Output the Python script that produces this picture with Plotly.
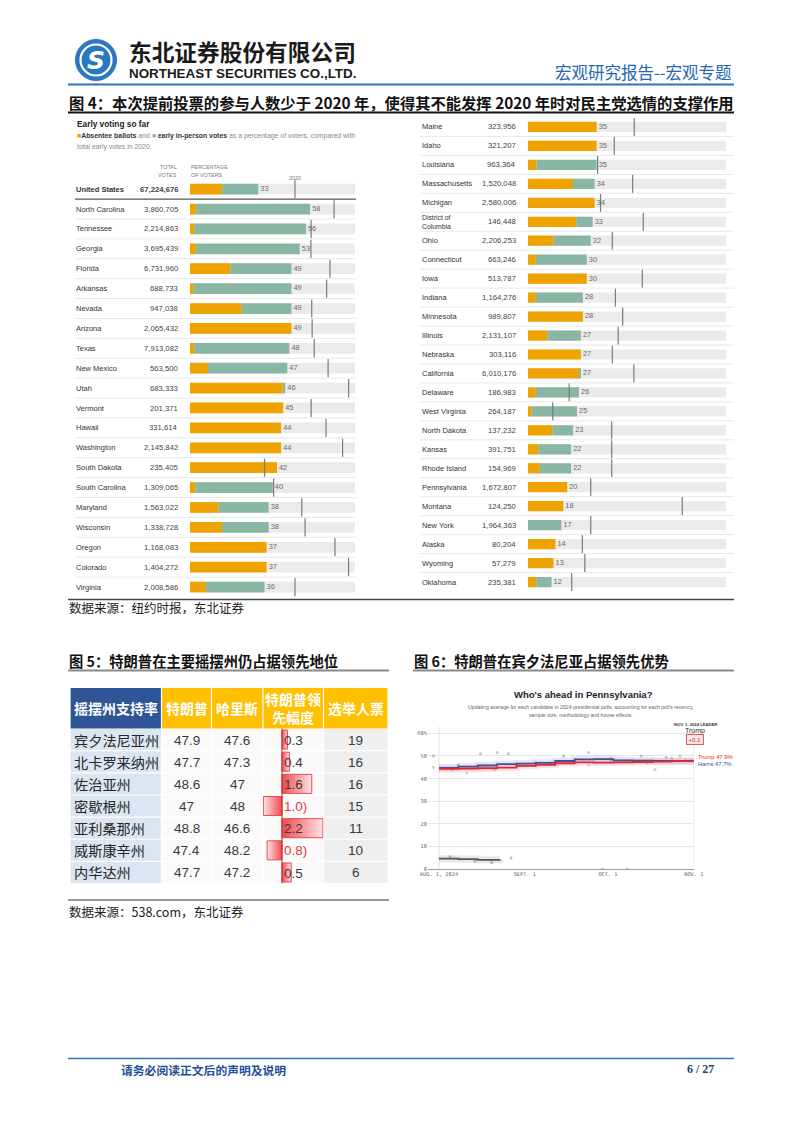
import plotly.graph_objects as go

W, H = 802, 1133


def PX(x):
    return x / W


def PY(y):
    return 1 - y / H


# ---------------- Figure 4 data (early voting, NYT) ----------------
left_states = ["United States", "North Carolina", "Tennessee", "Georgia", "Florida", "Arkansas",
               "Nevada", "Arizona", "Texas", "New Mexico", "Utah", "Vermont", "Hawaii",
               "Washington", "South Dakota", "South Carolina", "Maryland", "Wisconsin",
               "Oregon", "Colorado", "Virginia"]
left_votes = ["67,224,676", "3,860,705", "2,214,863", "3,695,439", "6,731,960", "688,733",
              "947,038", "2,065,432", "7,913,082", "563,500", "683,333", "201,371", "331,614",
              "2,145,842", "235,405", "1,309,065", "1,563,022", "1,338,728", "1,168,083",
              "1,404,272", "2,008,586"]
left_total = [33, 58, 56, 53, 49, 49, 49, 49, 48, 47, 46, 45, 44, 44, 42, 40, 38, 38, 37, 37, 36]
left_absentee = [15.5, 3, 2, 3, 19.5, 1.8, 25, 49, 2, 8.7, 44.8, 45, 44, 44, 42, 2.6, 13.8, 15.5,
                 37, 37, 7.7]
left_2020 = [50.7, 69.6, 58.5, 58.4, 67.6, 66, 58.8, 59, 60, 66.7, 76.6, 58.5, 65.7, 73.7, 36,
             40.4, 54, 55.6, 70, 76.6, 50.7]

right_states = ["Maine", "Idaho", "Louisiana", "Massachusetts", "Michigan", "District of Columbia",
                "Ohio", "Connecticut", "Iowa", "Indiana", "Minnesota", "Illinois", "Nebraska",
                "California", "Delaware", "West Virginia", "North Dakota", "Kansas",
                "Rhode Island", "Pennsylvania", "Montana", "New York", "Alaska", "Wyoming",
                "Oklahoma"]
right_votes = ["323,956", "321,207", "963,364", "1,520,048", "2,580,006", "146,448", "2,206,253",
               "663,246", "513,787", "1,164,276", "989,807", "2,131,107", "303,116", "6,010,176",
               "186,983", "264,187", "137,232", "391,751", "154,969", "1,672,807", "124,250",
               "1,964,363", "80,204", "57,279", "235,381"]
right_total = [35, 35, 35, 34, 34, 33, 32, 30, 30, 28, 28, 27, 27, 27, 26, 25, 23, 22, 22, 20, 18,
               17, 14, 13, 12]
right_absentee = [35, 35, 4.4, 23, 34, 24.6, 13, 4, 30, 4, 28, 10, 27, 26.5, 4, 1.9, 12.6, 5.3, 6,
                  20, 18, 0, 14, 13, 4.2]
right_2020 = [54.2, 44, 35.5, 53.4, 37, 58.8, 43, None, 58.3, 44.6, 48.3, 46, 43, 54, 21, 12.6,
              42.7, 42.7, 42.7, 32, 78.7, 32, 27.7, 29, 22.3]

# ---------------- Figure 5 data (swing-state table) ----------------
table_headers = ["摇摆州支持率", "特朗普", "哈里斯", "特朗普领<br>先幅度", "选举人票"]
swing_states = ["宾夕法尼亚州", "北卡罗来纳州", "佐治亚州", "密歇根州", "亚利桑那州", "威斯康辛州", "内华达州"]
trump_support = [47.9, 47.7, 48.6, 47, 48.8, 47.4, 47.7]
harris_support = [47.6, 47.3, 47, 48, 46.6, 48.2, 47.2]
electoral_votes = [19, 16, 16, 15, 11, 10, 6]

# ---------------- Figure 6 data (Pennsylvania polling average) ----------------
avg_dates = ["2024-08-01", "2024-08-08", "2024-08-15", "2024-08-22", "2024-08-29", "2024-09-05",
             "2024-09-12", "2024-09-19", "2024-09-26", "2024-10-03", "2024-10-10", "2024-10-17",
             "2024-10-24", "2024-11-01"]
trump_avg = [44.3, 44.4, 44.6, 44.9, 45.6, 46.1, 46.8, 47.2, 47.1, 47.2, 47.3, 47.5, 47.7, 47.9]
harris_avg = [44.8, 45.3, 45.8, 46.4, 46.6, 47.0, 47.8, 48.5, 48.6, 48.1, 47.9, 47.8, 47.8, 47.7]
kennedy_dates = ["2024-08-01", "2024-08-08", "2024-08-15", "2024-08-23"]
kennedy_avg = [4.7, 4.5, 4.2, 4.3]
trump_poll_dates = ["2024-07-30", "2024-08-06", "2024-08-11", "2024-08-21", "2024-08-29",
                    "2024-09-10", "2024-09-17", "2024-09-24", "2024-10-02", "2024-10-08",
                    "2024-10-15", "2024-10-18", "2024-10-24", "2024-10-29"]
trump_poll_vals = [45, 44, 42.5, 44, 46, 47, 47.5, 46, 49, 48, 47, 44, 49, 48]
harris_poll_dates = ["2024-07-30", "2024-08-08", "2024-08-16", "2024-08-22", "2024-08-26",
                     "2024-09-05", "2024-09-15", "2024-09-24", "2024-10-02", "2024-10-13",
                     "2024-10-22", "2024-10-27", "2024-10-31"]
harris_poll_vals = [50, 46, 51, 51.5, 51, 47, 50, 51.5, 48, 50, 49.5, 50, 48]
kennedy_poll_dates = ["2024-08-05", "2024-08-14", "2024-08-20", "2024-08-27", "2024-09-29",
                      "2024-10-08"]
kennedy_poll_vals = [5.5, 3.5, 3.0, 5.0, 0, 0]
pa_tick_dates = ["2024-08-01", "2024-09-01", "2024-10-01", "2024-11-01"]
pa_tick_text = ["AUG. 1, 2024", "SEPT. 1", "OCT. 1", "NOV. 1"]

# ---------------- styles ----------------
ORANGE = "#eea300"
GREEN = "#89b7a3"
BGBAR = "#ebebeb"
SANS = "Liberation Sans"
CJK = "Noto Sans CJK SC"
BLUE = "#2466b0"

fig = go.Figure()
shapes = []
ann = []


def text(x, y, s, size, color="#222", family=SANS, xanchor="left", yanchor="middle", **kw):
    ann.append(dict(x=PX(x), y=PY(y), xref="paper", yref="paper", text=s, showarrow=False,
                    xanchor=xanchor, yanchor=yanchor,
                    font=dict(size=size, color=color, family=family), **kw))


def hline(x0, x1, y, color, width):
    shapes.append(dict(type="line", xref="paper", yref="paper", x0=PX(x0), x1=PX(x1),
                       y0=PY(y), y1=PY(y), line=dict(color=color, width=width)))


def rect(x0, x1, y0, y1, fill, line_color=None, lw=0):
    shapes.append(dict(type="rect", xref="paper", yref="paper", x0=PX(x0), x1=PX(x1),
                       y0=PY(y1), y1=PY(y0), fillcolor=fill,
                       line=dict(color=line_color or fill, width=lw), layer="below"))


# ---------------- page header ----------------
shapes.append(dict(type="circle", xref="paper", yref="paper", x0=PX(75.5), x1=PX(116.5),
                   y0=PY(80.5), y1=PY(39.5), fillcolor="#2a78c2", line=dict(color="#2a78c2", width=1)))
shapes.append(dict(type="circle", xref="paper", yref="paper", x0=PX(80.5), x1=PX(111.5),
                   y0=PY(75.5), y1=PY(44.5), fillcolor="rgba(0,0,0,0)", line=dict(color="white", width=2.2)))
text(96, 60.5, "<b><i>S</i></b>", 25, "white", "DejaVu Sans", xanchor="center")
text(127, 51, "<b>东北证券股份有限公司</b>", 22.7, "#1b1b1b", CJK)
text(127, 73.5, "<b>NORTHEAST SECURITIES CO.,LTD.</b>", 13.4, "#1b1b1b", SANS)
text(733, 72, "宏观研究报告--宏观专题", 16.5, BLUE, CJK, xanchor="right")
hline(68, 734, 84.5, "#2f73bd", 2)

# ---------------- Figure 4 ----------------
text(67, 102.5, "<b>图 4：本次提前投票的参与人数少于 2020 年，使得其不能发挥 2020 年时对民主党选情的支撑作用</b>",
     15.3, "#111", CJK)
hline(68, 734, 112.5, "#111", 2)
text(75, 124.5, "<b>Early voting so far</b>", 8.3, "#222")
text(75, 136.5,
     f"<span style='color:{ORANGE}'>■</span><b><span style='color:#333'>Absentee ballots</span></b> and "
     f"<span style='color:{GREEN}'>■</span> <b><span style='color:#333'>early in-person votes</span></b>"
     " as a percentage of voters, compared with", 6.9, "#888")
text(75, 147, "total early votes in 2020.", 6.9, "#888")
text(179, 167, "TOTAL", 5.4, "#777", xanchor="right")
text(179, 174.5, "VOTES", 5.4, "#777", xanchor="right")
text(189, 167, "PERCENTAGE", 5.4, "#777")
text(189, 174.5, "OF VOTERS", 5.4, "#777")
text(295, 178, "2020", 5.4, "#777", xanchor="center")


def bar_panel(states, totals, absentee, prior, votes, xa, ya, xmax, name_x, votes_x,
              sep_x0, sep_x1, bold_first):
    n = len(states)
    inperson = [t - a for t, a in zip(totals, absentee)]
    common = dict(orientation="h", y=states, xaxis=xa, yaxis=ya, width=0.54, hoverinfo="skip")
    fig.add_trace(go.Bar(x=[xmax] * n, marker=dict(color=BGBAR, line=dict(width=0)), **common))
    fig.add_trace(go.Bar(x=absentee, marker=dict(color=ORANGE, line=dict(width=0)), **common))
    fig.add_trace(go.Bar(x=inperson, base=absentee, marker=dict(color=GREEN, line=dict(width=0)), **common))
    fig.add_trace(go.Scatter(x=prior, y=states, mode="markers", xaxis=xa, yaxis=ya, hoverinfo="skip",
                             cliponaxis=False,
                             marker=dict(symbol="line-ns", size=13, color="#7a7a7a",
                                         line=dict(width=1.2, color="#7a7a7a"))))
    fig.add_trace(go.Scatter(x=totals, y=states, mode="text", text=[" " + str(t) for t in totals],
                             textposition="middle right", xaxis=xa, yaxis=ya, hoverinfo="skip",
                             cliponaxis=False,
                             textfont=dict(size=7.4, color="#6a6a6a", family=SANS)))
    yref = "y" + ya[1:]
    for i, (s, v) in enumerate(zip(states, votes)):
        label = s.replace("District of ", "District of<br>")
        nm_size = 6.8 if "<br>" in label else 7.5
        if bold_first and i == 0:
            label, v = f"<b>{label}</b>", f"<b>{v}</b>"
        ann.append(dict(x=PX(name_x), y=i, xref="paper", yref=yref, text=label, showarrow=False,
                        xanchor="left", yanchor="middle", align="left",
                        font=dict(size=nm_size, color="#333", family=SANS)))
        ann.append(dict(x=PX(votes_x), y=i, xref="paper", yref=yref, text=v, showarrow=False,
                        xanchor="right", yanchor="middle",
                        font=dict(size=7.7, color="#444", family=SANS)))
    for i in range(n - 1):
        first = bold_first and i == 0
        shapes.append(dict(type="line", xref="paper", yref=yref, x0=PX(sep_x0), x1=PX(sep_x1),
                           y0=i + 0.5, y1=i + 0.5,
                           line=dict(color="#555" if first else "#e2e2e2", width=1.4 if first else 0.8)))


L_XMAX = 79.7
R_XMAX = 101
bar_panel(left_states, left_total, left_absentee, left_2020, left_votes, "x", "y", L_XMAX,
          74, 180, 75, 356, True)
bar_panel(right_states, right_total, right_absentee, right_2020, right_votes, "x2", "y2", R_XMAX,
          420, 518, 420, 734, False)

hline(68, 734, 599.5, "#444", 1.3)
text(67, 607.5, "数据来源：纽约时报，东北证券", 12.5, "#222", CJK)

# ---------------- Figure 5 (table) ----------------
text(67, 660, "<b>图 5：特朗普在主要摇摆州仍占据领先地位</b>", 14.3, "#111", CJK)
hline(68, 389, 670.5, "#8a8a8a", 2)
tbl_cols = [70, 161.5, 211.5, 263, 323.5, 388]
head_top, head_bot = 688, 728.5
row_h = 22.15
for c in range(5):
    rect(tbl_cols[c] + 0.6, tbl_cols[c + 1] - 0.6, head_top, head_bot,
         "#2f5597" if c == 0 else "#ffc000")
    ann.append(dict(x=PX((tbl_cols[c] + tbl_cols[c + 1]) / 2), y=PY((head_top + head_bot) / 2),
                    xref="paper", yref="paper", text=f"<b>{table_headers[c]}</b>", showarrow=False,
                    xanchor="center", yanchor="middle", align="center",
                    font=dict(size=14, color="white", family=CJK)))
leads = [round(t - h, 1) for t, h in zip(trump_support, harris_support)]
for r, st in enumerate(swing_states):
    top = head_bot + r * row_h
    cy = top + row_h / 2
    for c in range(5):
        fill = "#dce6f2" if c == 0 else ("#efefef" if c == 4 else "#fafafa")
        rect(tbl_cols[c] + 0.6, tbl_cols[c + 1] - 0.6, top + 0.6, top + row_h - 0.6, fill)
    text(72, cy, st, 14.2, "#262626", CJK)
    for c, v in ((1, trump_support[r]), (2, harris_support[r]), (4, electoral_votes[r])):
        text((tbl_cols[c] + tbl_cols[c + 1]) / 2, cy + 0.5, f"{v:g}", 13.5, "#3a3a3a", SANS,
             xanchor="center")
    v = leads[r]
    h = 0.43
    if v >= 0:
        cs = [[0, "#f0484d"], [1, "#fde4e4"]]
    else:
        cs = [[0, "#fde4e4"], [1, "#f0484d"]]
    fig.add_trace(go.Scatter(x=[0, v, v, 0, 0], y=[r - h, r - h, r + h, r + h, r - h],
                             mode="lines", fill="toself", xaxis="x4", yaxis="y4",
                             fillgradient=dict(type="horizontal", colorscale=cs),
                             line=dict(color="#ec4a50", width=1), hoverinfo="skip"))
    lbl = f"{v:.1f}" if v >= 0 else f"{abs(v):.1f})"
    ann.append(dict(x=0, y=r + 0.03, xref="x4", yref="y4", text=lbl, showarrow=False,
                    xanchor="left", yanchor="middle", xshift=0.5,
                    font=dict(size=13.5, color="#3a3a3a" if v >= 0 else "#e8393f", family=SANS)))
shapes.append(dict(type="line", xref="x4", yref="paper", x0=0, x1=0, y0=PY(head_bot + 7 * row_h),
                   y1=PY(head_bot), line=dict(color="#c0282d", width=1)))
hline(68, 389, 900, "#333", 1.2)
text(67, 911, "数据来源：538.com，东北证券", 12.5, "#222", CJK)

# ---------------- Figure 6 (Pennsylvania) ----------------
text(412, 660, "<b>图 6：特朗普在宾夕法尼亚占据领先优势</b>", 14.3, "#111", CJK)
hline(413, 734, 670.5, "#8a8a8a", 2)
text(583, 694, "<b>Who's ahead in Pennsylvania?</b>", 9.5, "#222", SANS, xanchor="center")
text(581, 706.5, "Updating average for each candidate in 2024 presidential polls, accounting for each poll's recency,",
     5.2, "#666", SANS, xanchor="center")
text(581, 714.5, "sample size, methodology and house effects.", 5.2, "#666", SANS, xanchor="center")
text(695, 724.3, "<b>NOV. 1, 2024 LEADER</b>", 4.2, "#333", SANS, xanchor="center")
text(695, 731, "Trump", 7, "#333", SANS, xanchor="center")
ann.append(dict(x=PX(695), y=PY(739.5), xref="paper", yref="paper", text="+0.1", showarrow=False,
                xanchor="center", yanchor="middle", bgcolor="#fbe4e4", bordercolor="#e25a5a",
                borderwidth=1, borderpad=1.5, font=dict(size=6, color="#d23a3a", family=SANS)))
text(696, 756.5, "Trump 47.9%", 5.8, "#d8302f", SANS)
text(696, 763.5, "Harris 47.7%", 5.8, "#2e4c9c", SANS)

fig.add_trace(go.Scatter(x=trump_poll_dates, y=trump_poll_vals, mode="markers", xaxis="x3", yaxis="y3",
                         marker=dict(size=3, color="rgba(225,120,120,0.45)"), hoverinfo="skip"))
fig.add_trace(go.Scatter(x=harris_poll_dates, y=harris_poll_vals, mode="markers", xaxis="x3", yaxis="y3",
                         marker=dict(size=3, color="rgba(120,120,160,0.45)"), hoverinfo="skip"))
fig.add_trace(go.Scatter(x=kennedy_poll_dates, y=kennedy_poll_vals, mode="markers", xaxis="x3", yaxis="y3",
                         marker=dict(size=3, color="rgba(120,120,120,0.5)"), hoverinfo="skip"))
for d, v, col, band in ((kennedy_dates, kennedy_avg, "#555555", "rgba(120,120,120,0.18)"),
                        (avg_dates, harris_avg, "#2e4c9c", "rgba(80,100,200,0.16)"),
                        (avg_dates, trump_avg, "#e0282e", "rgba(230,80,80,0.16)")):
    fig.add_trace(go.Scatter(x=d, y=v, mode="lines", xaxis="x3", yaxis="y3", hoverinfo="skip",
                             line=dict(color=band, width=7, shape="hv")))
    fig.add_trace(go.Scatter(x=d, y=v, mode="lines", xaxis="x3", yaxis="y3", hoverinfo="skip",
                             line=dict(color=col, width=1.8, shape="hv")))
for d in (pa_tick_dates[0], pa_tick_dates[-1]):
    shapes.append(dict(type="line", xref="x3", yref="paper", x0=d, x1=d, y0=PY(869.3), y1=PY(727),
                       line=dict(color="#d8d8d8", width=0.8), layer="below"))

# ---------------- footer ----------------
hline(68, 734, 1058.5, "#2f73bd", 1.5)
text(119, 1069, "<b>请务必阅读正文后的声明及说明</b>", 11.8, "#1f4f9a", CJK)
text(716, 1069, "<b>6 / 27</b>", 12, "#1f3f7a", "Liberation Serif", xanchor="right")

hidden = dict(visible=False, fixedrange=True)
fig.update_layout(
    width=W, height=H, margin=dict(l=0, r=0, t=0, b=0, pad=0, autoexpand=False),
    autosize=False,
    paper_bgcolor="white", plot_bgcolor="rgba(0,0,0,0)",
    showlegend=False, barmode="overlay",
    shapes=shapes, annotations=ann,
    xaxis=dict(domain=[PX(190), PX(355)], range=[0, L_XMAX], anchor="y", **hidden),
    yaxis=dict(domain=[PY(597), PY(179.2)], type="category", categoryorder="array",
               categoryarray=left_states, range=[len(left_states) - 0.5, -0.5], anchor="x", **hidden),
    xaxis2=dict(domain=[PX(528), PX(726)], range=[0, R_XMAX], anchor="y2", **hidden),
    yaxis2=dict(domain=[PY(591.5), PY(117.5)], type="category", categoryorder="array",
                categoryarray=right_states, range=[len(right_states) - 0.5, -0.5], anchor="x2", **hidden),
    xaxis3=dict(domain=[PX(427.9), PX(693.8)], type="date", range=["2024-07-28", "2024-11-01"],
                anchor="y3", tickvals=pa_tick_dates, ticktext=pa_tick_text, showgrid=False,
                zeroline=False, showline=False, ticks="", fixedrange=True,
                tickfont=dict(size=5.3, color="#666", family="DejaVu Sans Mono")),
    yaxis3=dict(domain=[PY(869.3), PY(728.8)], range=[0, 62], anchor="x3",
                tickvals=[0, 10, 20, 30, 40, 50, 60], ticktext=["0", "10", "20", "30", "40", "50", "60%"],
                showgrid=True, gridcolor="#e6e6e6", gridwidth=0.8, zeroline=True, zerolinecolor="#999",
                zerolinewidth=1, ticks="", fixedrange=True,
                tickfont=dict(size=5.3, color="#666", family="DejaVu Sans Mono")),
    xaxis4=dict(domain=[PX(263), PX(323.5)], range=[-1.02, 2.23], anchor="y4", **hidden),
    yaxis4=dict(domain=[PY(head_bot + 7 * row_h), PY(head_bot)], range=[6.5, -0.5], anchor="x4", **hidden),
)

fig.write_html("out.html", config={"displayModeBar": False},
               post_script="document.body.style.margin='0';document.body.style.overflow='hidden';")
